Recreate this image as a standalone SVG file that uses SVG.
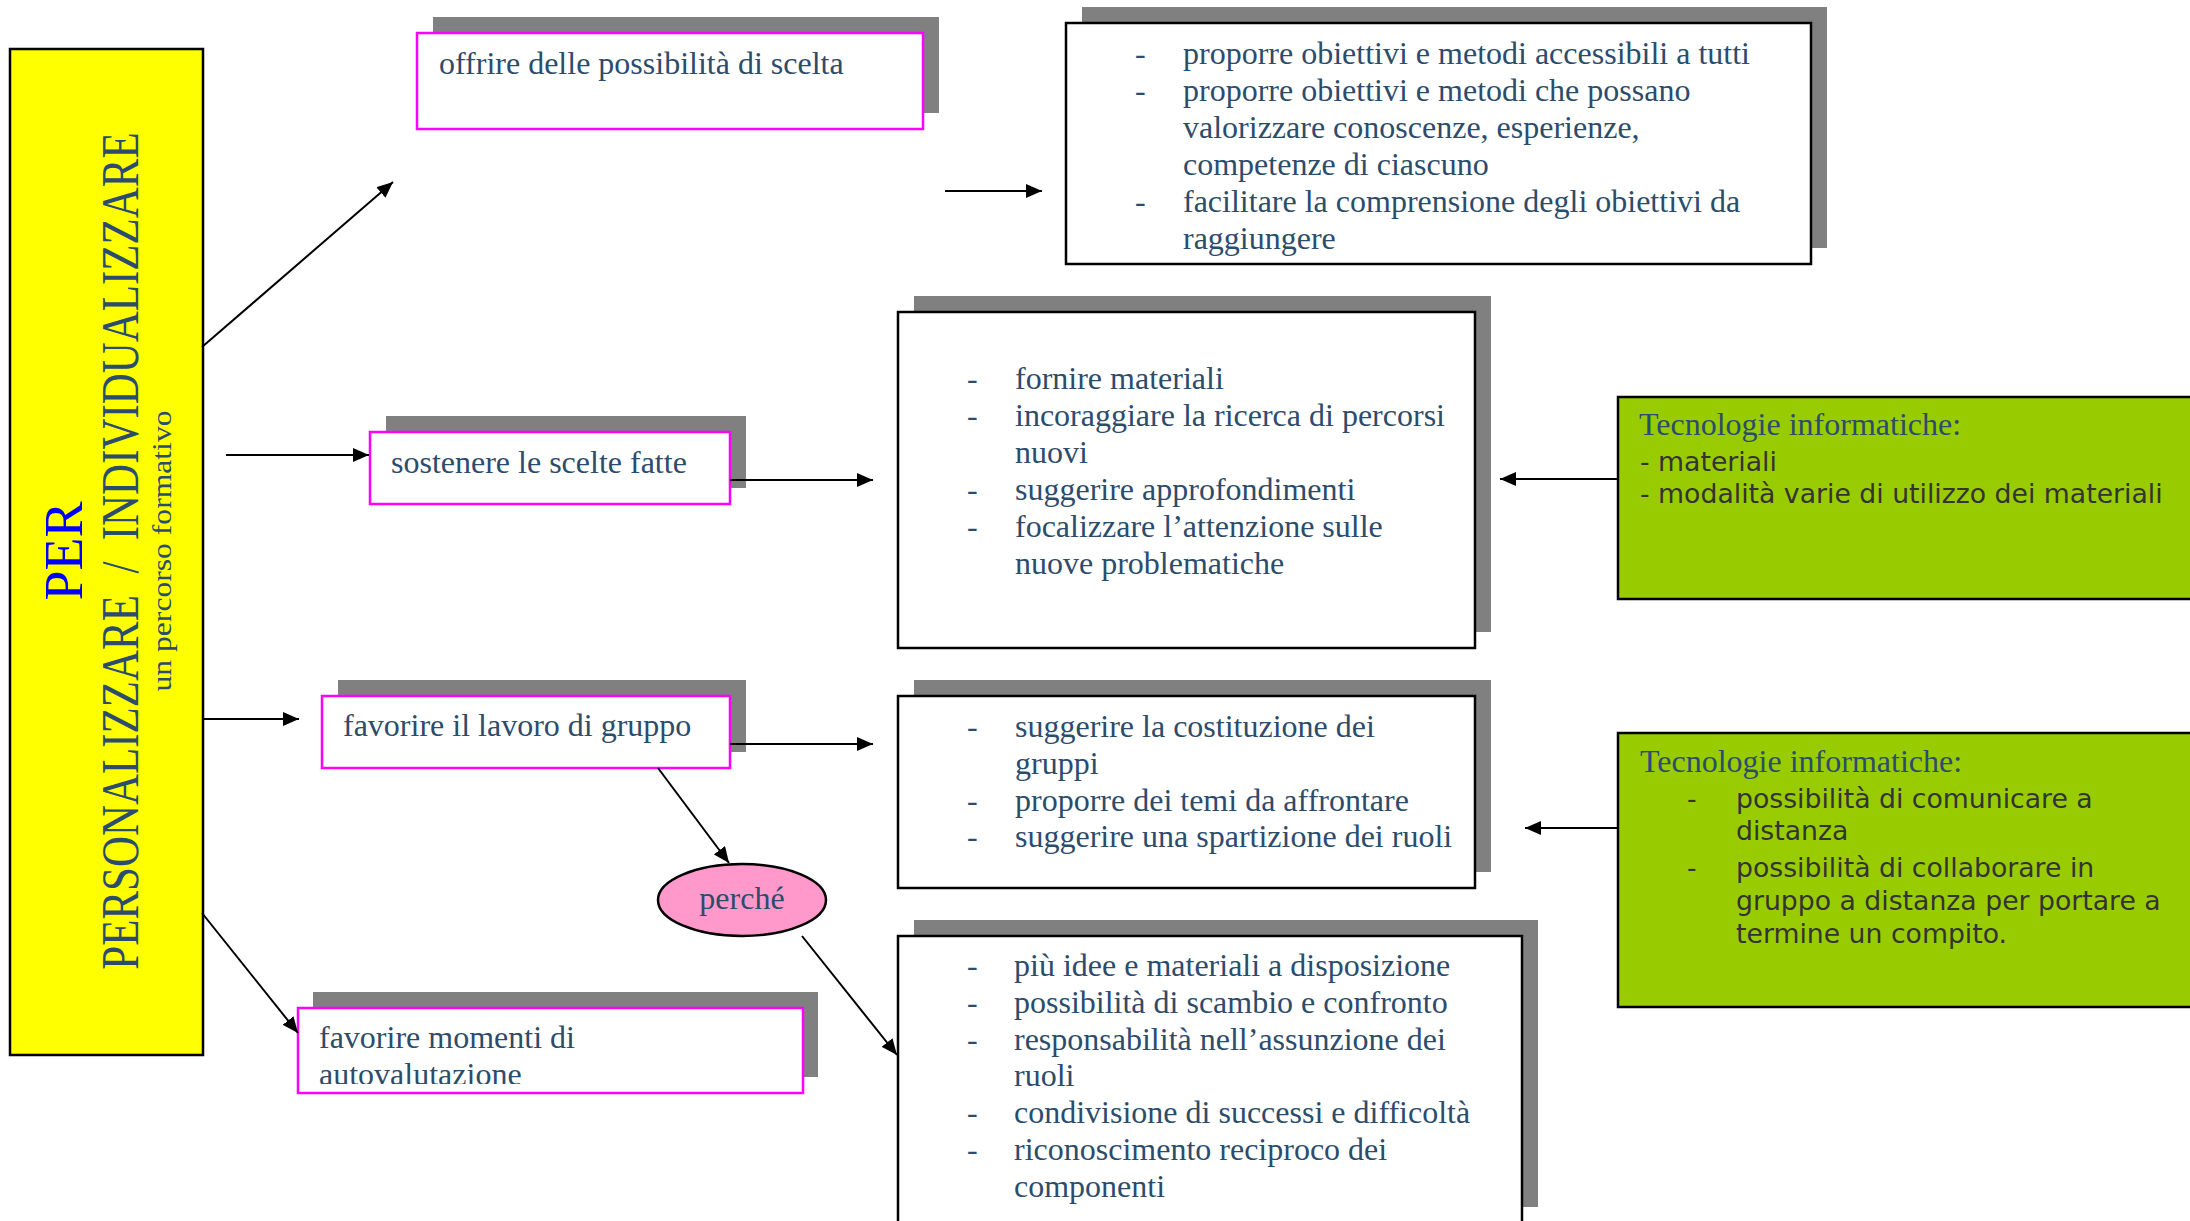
<svg xmlns="http://www.w3.org/2000/svg" width="2190" height="1221" viewBox="0 0 2190 1221">
<style>
.bg{fill:#ffffff}
.sh{fill:#808080}
.mag{fill:#ffffff;stroke:#ff00ff;stroke-width:2.5}
.blk{fill:#ffffff;stroke:#000000;stroke-width:2.5}
.grn{fill:#99cc00;stroke:#000000;stroke-width:2.5}
.t{font-family:"Liberation Serif","Times New Roman",serif;font-size:32px;fill:#2c4c6c}
.s{font-family:"DejaVu Sans",Verdana,sans-serif;font-size:26.7px;fill:#333333}
.c{stroke:#000000;stroke-width:2;fill:none;marker-end:url(#ah)}
</style>
<defs>
<marker id="ah" markerUnits="userSpaceOnUse" markerWidth="16" markerHeight="14" refX="16" refY="7" orient="auto">
<path d="M0,0 L16,7 L0,14 z" fill="#000000"/>
</marker>
<clipPath id="clipB4"><rect x="298" y="1009" width="504" height="75"/></clipPath>
</defs>
<rect class="bg" x="0" y="0" width="2190" height="1221"/>

<g id="main">
<rect x="10" y="49" width="193" height="1006" fill="#ffff00" stroke="#000000" stroke-width="2.5"/>
<text transform="translate(82,551) rotate(-90)" text-anchor="middle" font-family="'Liberation Serif','Times New Roman',serif" font-size="54" fill="#0000ff">PER</text>
<text transform="translate(138,551) rotate(-90) scale(0.826,1)" text-anchor="middle" font-family="'Liberation Serif','Times New Roman',serif" font-size="52" fill="#2c4c6c" xml:space="preserve">PERSONALIZZARE  /  INDIVIDUALIZZARE</text>
<text transform="translate(171,551) rotate(-90) scale(1.13,1)" text-anchor="middle" font-family="'Liberation Serif','Times New Roman',serif" font-size="28" fill="#2c4c6c">un percorso formativo</text>
</g>

<g id="b1">
<rect class="sh" x="433" y="17" width="506" height="96"/>
<rect class="mag" x="417" y="33" width="506" height="96"/>
<text class="t" x="439" y="74">offrire delle possibilità di scelta</text>
</g>

<g id="b2">
<rect class="sh" x="386" y="416" width="360" height="72"/>
<rect class="mag" x="370" y="432" width="360" height="72"/>
<text class="t" x="391" y="473">sostenere le scelte fatte</text>
</g>

<g id="b3">
<rect class="sh" x="338" y="680" width="408" height="72"/>
<rect class="mag" x="322" y="696" width="408" height="72"/>
<text class="t" x="343" y="736">favorire il lavoro di gruppo</text>
</g>

<g id="b4">
<rect class="sh" x="313" y="992" width="505" height="85"/>
<rect class="mag" x="298" y="1008" width="505" height="85"/>
<g clip-path="url(#clipB4)">
<text class="t" x="319" y="1048">favorire momenti di</text>
<text class="t" x="319" y="1085">autovalutazione</text>
</g>
</g>

<g id="c1">
<rect class="sh" x="1082" y="7" width="745" height="241"/>
<rect class="blk" x="1066" y="23" width="745" height="241"/>
<text class="t" x="1135" y="64">-</text><text class="t" x="1183" y="64">proporre obiettivi e metodi accessibili a tutti</text>
<text class="t" x="1135" y="101">-</text><text class="t" x="1183" y="101">proporre obiettivi e metodi che possano</text>
<text class="t" x="1183" y="138">valorizzare conoscenze, esperienze,</text>
<text class="t" x="1183" y="175">competenze di ciascuno</text>
<text class="t" x="1135" y="212">-</text><text class="t" x="1183" y="212">facilitare la comprensione degli obiettivi da</text>
<text class="t" x="1183" y="249">raggiungere</text>
</g>

<g id="c2">
<rect class="sh" x="914" y="296" width="577" height="336"/>
<rect class="blk" x="898" y="312" width="577" height="336"/>
<text class="t" x="967" y="389">-</text><text class="t" x="1015" y="389">fornire materiali</text>
<text class="t" x="967" y="426">-</text><text class="t" x="1015" y="426">incoraggiare la ricerca di percorsi</text>
<text class="t" x="1015" y="463">nuovi</text>
<text class="t" x="967" y="500">-</text><text class="t" x="1015" y="500">suggerire approfondimenti</text>
<text class="t" x="967" y="537">-</text><text class="t" x="1015" y="537">focalizzare l’attenzione sulle</text>
<text class="t" x="1015" y="574">nuove problematiche</text>
</g>

<g id="c3">
<rect class="sh" x="914" y="680" width="577" height="192"/>
<rect class="blk" x="898" y="696" width="577" height="192"/>
<text class="t" x="967" y="737">-</text><text class="t" x="1015" y="737">suggerire la costituzione dei</text>
<text class="t" x="1015" y="774">gruppi</text>
<text class="t" x="967" y="811">-</text><text class="t" x="1015" y="811">proporre dei temi da affrontare</text>
<text class="t" x="967" y="847">-</text><text class="t" x="1015" y="847">suggerire una spartizione dei ruoli</text>
</g>

<g id="c4">
<rect class="sh" x="914" y="920" width="624" height="287"/>
<rect class="blk" x="898" y="936" width="624" height="300"/>
<text class="t" x="967" y="976">-</text><text class="t" x="1014" y="976">più idee e materiali a disposizione</text>
<text class="t" x="967" y="1013">-</text><text class="t" x="1014" y="1013">possibilità di scambio e confronto</text>
<text class="t" x="967" y="1050">-</text><text class="t" x="1014" y="1050">responsabilità nell’assunzione dei</text>
<text class="t" x="1014" y="1086">ruoli</text>
<text class="t" x="967" y="1123">-</text><text class="t" x="1014" y="1123">condivisione di successi e difficoltà</text>
<text class="t" x="967" y="1160">-</text><text class="t" x="1014" y="1160">riconoscimento reciproco dei</text>
<text class="t" x="1014" y="1197">componenti</text>
</g>

<g id="perche">
<ellipse cx="742" cy="900" rx="84" ry="36" fill="#ff99cc" stroke="#000000" stroke-width="2.5"/>
<text class="t" x="742" y="909" text-anchor="middle">perché</text>
</g>

<g id="d1">
<rect class="grn" x="1618" y="397" width="600" height="202"/>
<text class="t" x="1639" y="435">Tecnologie informatiche:</text>
<text class="s" x="1640" y="471">- materiali</text>
<text class="s" x="1640" y="503">- modalità varie di utilizzo dei materiali</text>
</g>

<g id="d2">
<rect class="grn" x="1618" y="733" width="600" height="274"/>
<text class="t" x="1640" y="772">Tecnologie informatiche:</text>
<text class="s" x="1687" y="808">-</text><text class="s" x="1736" y="808">possibilità di comunicare a</text>
<text class="s" x="1736" y="840">distanza</text>
<text class="s" x="1687" y="877">-</text><text class="s" x="1736" y="877">possibilità di collaborare in</text>
<text class="s" x="1736" y="910">gruppo a distanza per portare a</text>
<text class="s" x="1736" y="943">termine un compito.</text>
</g>

<g id="connectors">
<line class="c" x1="202" y1="347" x2="393" y2="182"/>
<line class="c" x1="226" y1="455" x2="369" y2="455"/>
<line class="c" x1="202" y1="719" x2="299" y2="719"/>
<line class="c" x1="202" y1="913" x2="298" y2="1033"/>
<line class="c" x1="945" y1="191" x2="1042" y2="191"/>
<line class="c" x1="730" y1="480" x2="873" y2="480"/>
<line class="c" x1="1618" y1="479" x2="1500" y2="479"/>
<line class="c" x1="730" y1="744" x2="873" y2="744"/>
<line class="c" x1="658" y1="768" x2="729" y2="863"/>
<line class="c" x1="1618" y1="828" x2="1525" y2="828"/>
<line class="c" x1="802" y1="936" x2="897" y2="1055"/>
</g>
</svg>
